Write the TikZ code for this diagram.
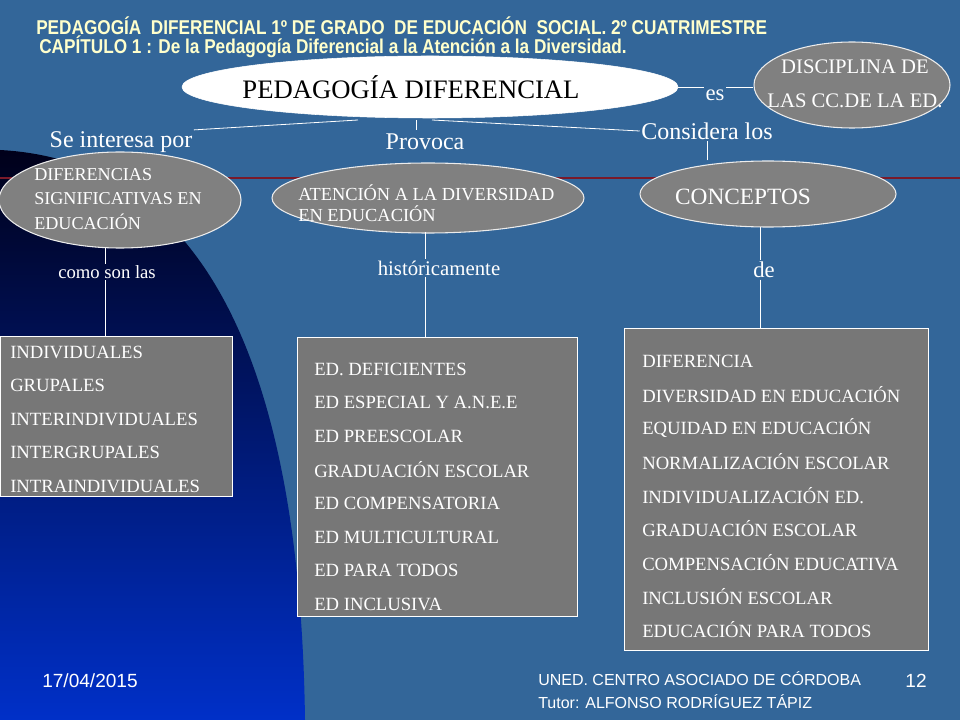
\documentclass[tikz,border=0pt]{standalone}
\usepackage{fontspec}
\setmainfont{Liberation Serif}
\newfontfamily\sansf{Liberation Sans}
\usetikzlibrary{shapes.geometric}
\definecolor{bg}{HTML}{336699}
\definecolor{ellg}{HTML}{808080}
\definecolor{boxg}{HTML}{777777}
\definecolor{ttl}{HTML}{FFFFCC}
\definecolor{redl}{HTML}{7A1A2A}
\newcommand{\fs}[1]{\fontsize{#1}{#1}\selectfont}
\begin{document}
\begin{tikzpicture}[x=0.75pt,y=-0.75pt,
  ell/.style={ellipse,draw=white!85!gray,line width=0.8pt,fill=ellg,inner sep=0pt},
  box/.style={rectangle,draw=white,line width=0.7pt,fill=boxg,anchor=north west,inner sep=0pt},
  btxt/.style={anchor=west,text=white,inner sep=0pt,font=\fs{14}},
  lbl/.style={text=white,inner sep=1pt},
  conn/.style={draw=white,line width=0.6pt}]
\fill[bg] (0,0) rectangle (960,720);
\useasboundingbox (0,0) rectangle (960,720);
\shade[top color=black!90!blue, bottom color={rgb,255:red,0;green,48;blue,200}]
  (0,150) .. controls (190,160) and (300,340) .. (305,720) -- (0,720) -- cycle;
\draw[redl,line width=1pt] (0,178) -- (960,178);
% title
\node[anchor=west,text=ttl,inner sep=0pt,font=\sansf\bfseries\fs{15}] (t1) at (36,26) {\scalebox{0.86}[1]{PEDAGOGÍA\ \ DIFERENCIAL 1º DE GRADO\ \ DE EDUCACIÓN\ \ SOCIAL. 2º CUATRIMESTRE}};
\node[anchor=west,text=ttl,inner sep=0pt,font=\sansf\bfseries\fs{15}] (t2) at (39,47) {\scalebox{0.86}[1]{CAPÍTULO 1 : De la Pedagogía Diferencial a la Atención a la Diversidad.}};
% ellipses
\node[ellipse,fill=white,draw=white,minimum width=0.75*496pt,minimum height=0.75*62pt,inner sep=0pt] (pd) at (430,87) {};
\node[font=\fs{20},inner sep=0pt] (pdt) at (411,87) {PEDAGOGÍA DIFERENCIAL};
\node[ell,minimum width=0.75*196pt,minimum height=0.75*86pt] (dis) at (852,85) {};
\node[text=white,align=center,font=\fs{15.5},inner sep=0pt] (dist) at (855,84) {DISCIPLINA DE\\[10pt]LAS CC.DE LA ED.};
\node[ell,minimum width=0.75*242pt,minimum height=0.75*96pt] (dif) at (120,200) {};
\node[text=white,align=left,anchor=west,font=\fs{13.6},inner sep=0pt] (dift) at (34,199) {DIFERENCIAS\\[5pt]SIGNIFICATIVAS EN\\[5pt]EDUCACIÓN};
\node[ell,minimum width=0.75*312pt,minimum height=0.75*70pt] (ate) at (428,198) {};
\node[text=white,align=left,anchor=west,font=\fs{13.8},inner sep=0pt] (atet) at (298,203) {ATENCIÓN A LA DIVERSIDAD\\[2pt]EN EDUCACIÓN};
\node[ell,minimum width=0.75*256pt,minimum height=0.75*66pt] (con) at (768,194) {};
\node[text=white,font=\fs{17.5},inner sep=0pt] (cont) at (743,197) {CONCEPTOS};
% labels
\node[lbl,font=\fs{18}] (se) at (121,142) {Se interesa por};
\node[lbl,font=\fs{18}] (pr) at (425,142) {Provoca};
\node[lbl,font=\fs{18}] (cl) at (707,131) {Considera los};
\node[lbl,font=\fs{17}] (es) at (715,95) {es};
\node[lbl,font=\fs{14}] (cs) at (107,272) {como son las};
\node[lbl,font=\fs{15.6}] (hi) at (439,268) {históricamente};
\node[lbl,font=\fs{17}] (de) at (764,270) {de};
% connectors
\draw[conn] (358,120) -- (se.north east);
\draw[conn] (416,120) -- (416,130);
\draw[conn] (432,120) -- (cl.west);
\draw[conn] (con.north -| cl.south) -- (cl.south);
\draw[conn] (pd.east) -- (pd.east -| es.west);
\draw[conn] (pd.east -| es.east) -- (pd.east -| dis.west);
% boxes
\node[box,minimum width=0.75*232pt,minimum height=0.75*160pt] (b1) at (0,336) {};
\node[box,minimum width=0.75*280pt,minimum height=0.75*279pt] (b2) at (297,337) {};
\node[box,minimum width=0.75*304pt,minimum height=0.75*322pt] (b3) at (624,328) {};
\coordinate (c1) at (105,248);
\draw[conn] (c1) -- (cs.north -| c1);
\draw[conn] (cs.south -| c1) -- (b1.north -| c1);
\coordinate (c2) at (425,232);
\draw[conn] (c2) -- (hi.north -| c2);
\draw[conn] (hi.south -| c2) -- (b2.north -| c2);
\coordinate (c3) at (760,227);
\draw[conn] (c3) -- (de.north -| c3);
\draw[conn] (de.south -| c3) -- (b3.north -| c3);
% box texts
\foreach \t [count=\i] in {INDIVIDUALES,GRUPALES,INTERINDIVIDUALES,INTERGRUPALES,INTRAINDIVIDUALES}
  \node[btxt] (l\i) at (10,352+33.6*\i-33.6) {\t};
\foreach \t [count=\i] in {ED. DEFICIENTES,ED ESPECIAL Y A.N.E.E,ED PREESCOLAR,GRADUACIÓN ESCOLAR,ED COMPENSATORIA,ED MULTICULTURAL,ED PARA TODOS,ED INCLUSIVA}
  \node[btxt] (m\i) at (314,369+33.6*\i-33.6) {\t};
\foreach \t [count=\i] in {DIFERENCIA,DIVERSIDAD EN EDUCACIÓN,EQUIDAD EN EDUCACIÓN,NORMALIZACIÓN ESCOLAR,INDIVIDUALIZACIÓN ED.,GRADUACIÓN ESCOLAR,COMPENSACIÓN EDUCATIVA,INCLUSIÓN ESCOLAR,EDUCACIÓN PARA TODOS}
  \node[btxt] (r\i) at (642,361+33.6*\i-33.6) {\t};
% footer
\node[anchor=west,text=white,font=\sansf\fs{14.3},inner sep=0pt] (f1) at (42,681) {17/04/2015};
\node[anchor=west,text=white,font=\sansf\fs{12},inner sep=0pt] (f2) at (538,679) {UNED. CENTRO ASOCIADO DE CÓRDOBA};
\node[anchor=west,text=white,font=\sansf\fs{12},inner sep=0pt] (f3) at (538,702) {Tutor: ALFONSO RODRÍGUEZ TÁPIZ};
\node[text=white,font=\sansf\fs{14.3},inner sep=0pt] (f4) at (916,681) {12};
\end{tikzpicture}
\end{document}
